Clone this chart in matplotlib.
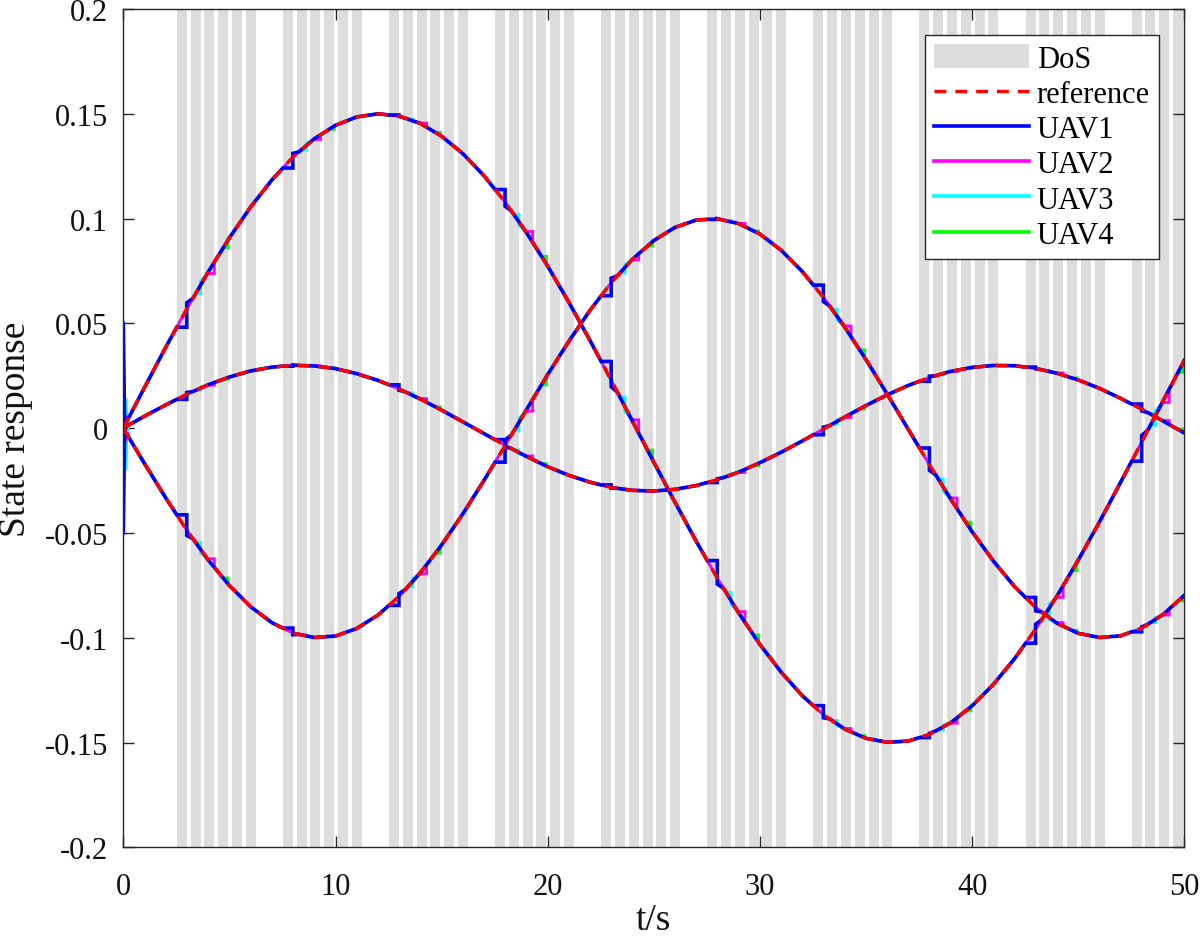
import numpy as np
import matplotlib
matplotlib.use("Agg")
import matplotlib.pyplot as plt
from matplotlib.patches import Patch
from matplotlib.lines import Line2D
from matplotlib.ticker import FuncFormatter

# ---------------- data ----------------
t_ref = list(range(51))  # seconds

ref_x1 = [0.0000, 0.0194, 0.0386, 0.0570, 0.0745, 0.0908, 0.1055, 0.1184, 0.1294,
          0.1381, 0.1445, 0.1485, 0.1500, 0.1489, 0.1454, 0.1393, 0.1310, 0.1204,
          0.1078, 0.0933, 0.0773, 0.0600, 0.0417, 0.0227, 0.0032, -0.0162, -0.0354,
          -0.0540, -0.0717, -0.0882, -0.1032, -0.1164, -0.1277, -0.1368, -0.1436, -0.1480,
          -0.1499, -0.1493, -0.1461, -0.1405, -0.1325, -0.1223, -0.1100, -0.0958, -0.0801,
          -0.0630, -0.0448, -0.0258, -0.0065, 0.0130, 0.0323]
ref_x2 = [0.0000, -0.0169, -0.0333, -0.0488, -0.0629, -0.0751, -0.0852, -0.0928, -0.0978,
          -0.0999, -0.0992, -0.0956, -0.0892, -0.0803, -0.0690, -0.0558, -0.0409, -0.0249,
          -0.0082, 0.0088, 0.0256, 0.0415, 0.0563, 0.0695, 0.0807, 0.0895, 0.0958,
          0.0993, 0.0999, 0.0976, 0.0926, 0.0849, 0.0747, 0.0623, 0.0482, 0.0327,
          0.0162, -0.0007, -0.0176, -0.0340, -0.0494, -0.0634, -0.0756, -0.0856, -0.0931,
          -0.0979, -0.0999, -0.0991, -0.0954, -0.0889, -0.0798]
ref_x3 = [0.0000, 0.0057, 0.0111, 0.0162, 0.0207, 0.0244, 0.0273, 0.0291, 0.0300,
          0.0297, 0.0284, 0.0260, 0.0228, 0.0187, 0.0139, 0.0086, 0.0030, -0.0026,
          -0.0082, -0.0135, -0.0184, -0.0225, -0.0258, -0.0283, -0.0297, -0.0300, -0.0292,
          -0.0274, -0.0246, -0.0210, -0.0165, -0.0115, -0.0061, -0.0004, 0.0053, 0.0108,
          0.0159, 0.0204, 0.0242, 0.0271, 0.0290, 0.0299, 0.0298, 0.0285, 0.0262,
          0.0230, 0.0190, 0.0142, 0.0090, 0.0034, -0.0023]

# DoS attack intervals: groups every 5 s, six short attack windows per group
dos_group_starts = [2.5, 7.5, 12.5, 17.5, 22.5, 27.5, 32.5, 37.5, 42.5, 47.5]
dos_stripe_offsets = [0.02, 0.67, 1.32, 1.97, 2.62, 3.27]
dos_stripe_width = 0.47

uav_names = ["UAV1", "UAV2", "UAV3", "UAV4"]
uav_colors = ["#0000ff", "#ff00ff", "#00ffff", "#00ff00"]
# which attack window of every group freezes each UAV's update (zero-order hold)
uav_hold_stripes = [[0], [2], [1], [3]]
uav_hold_fraction = [1.0, 0.7, 0.5, 0.5]
uav_overshoot = [0.35, 0.0, 0.5, 0.2]
uav_settle = [0.30, 0.15, 0.30, 0.20]

# initial transient of each UAV (three states each)
init_t = [0.0, 0.06, 0.12, 0.18, 0.24]
uav_init = [
    [[0.050, 0.003, 0.002, 0.004, 0.0047], [-0.050, -0.002, -0.003, -0.003, -0.0041], [0.000, 0.002, 0.000, 0.001, 0.0014]],
    [[0.030, 0.001, 0.006, 0.003, 0.0047], [-0.030, 0.003, -0.006, -0.002, -0.0041], [0.010, -0.002, 0.003, 0.001, 0.0014]],
    [[0.042, -0.008, 0.014, 0.000, 0.0047], [-0.021, 0.011, -0.016, 0.004, -0.0041], [-0.006, 0.013, -0.020, 0.006, 0.0014]],
    [[0.020, 0.004, 0.002, 0.005, 0.0047], [-0.015, -0.006, 0.002, -0.004, -0.0041], [0.005, 0.001, 0.003, 0.001, 0.0014]],
]

# ---------------- helpers ----------------
def uav_trace(yref, holds, os_frac, settle, t0_pts, y0_pts):
    tr = np.asarray(t_ref, float)
    yr = np.asarray(yref, float)
    mask = tr > t0_pts[-1]
    ext_t, ext_y = [], []
    for a, b in holds:
        ya = np.interp(a, tr, yr)
        yb = np.interp(b, tr, yr)
        ys = np.interp(b + settle, tr, yr)
        mask &= ~((tr >= a) & (tr <= b + settle))
        ext_t += [a, b, b, b + settle]
        ext_y += [ya, ya, yb + os_frac * (yb - ya), ys]
    T = np.concatenate([t0_pts, tr[mask], ext_t])
    Y = np.concatenate([y0_pts, yr[mask], ext_y])
    order = np.argsort(T, kind="stable")
    return T[order], Y[order]

# ---------------- figure ----------------
plt.rcParams["font.family"] = ["Liberation Serif", "DejaVu Serif"]
plt.rcParams["axes.unicode_minus"] = False

fig = plt.figure(figsize=(12, 9.37), dpi=100)
ax = fig.add_axes([0.10275, 0.09467, 0.88417, 0.89466])

dos_color = "#dddddd"
for g in dos_group_starts:
    for off in dos_stripe_offsets:
        a = g + off
        ax.axvspan(a, a + dos_stripe_width, facecolor=dos_color, edgecolor="none", zorder=1)

refs = [ref_x1, ref_x2, ref_x3]
for k in range(3, -1, -1):
    holds = []
    for g in dos_group_starts:
        for s in uav_hold_stripes[k]:
            b = g + dos_stripe_offsets[s] + dos_stripe_width
            holds.append((b - uav_hold_fraction[k] * dos_stripe_width, b))
    for j, yref in enumerate(refs):
        T, Y = uav_trace(yref, holds, uav_overshoot[k], uav_settle[k], init_t, uav_init[k][j])
        ax.plot(T, Y, color=uav_colors[k], lw=2.6 if k == 0 else 2.1,
                zorder=2 + (3 - k), solid_joinstyle="miter")

for yref in refs:
    ax.plot(t_ref, yref, color="#ff0000", lw=2.5, linestyle=(0, (3.4, 2.6)), zorder=7)

ax.set_xlim(0, 50)
ax.set_ylim(-0.2, 0.2)
ax.set_xticks([0, 10, 20, 30, 40, 50])
ax.set_yticks([-0.2, -0.15, -0.1, -0.05, 0, 0.05, 0.1, 0.15, 0.2])
ax.yaxis.set_major_formatter(FuncFormatter(lambda v, p: "%g" % round(v, 4)))

axis_col = "#262626"
for sp in ax.spines.values():
    sp.set_color(axis_col)
    sp.set_linewidth(1.0)
    sp.set_zorder(10)
ax.tick_params(direction="in", length=8, width=1.0, color=axis_col, labelcolor="#111111",
               labelsize=22, top=True, right=True)
ax.tick_params(axis="x", pad=17.5)
ax.tick_params(axis="y", pad=11)

ax.set_xlabel("t/s", fontsize=27, color="#111111")
ax.xaxis.label.set_va("baseline")
ax.xaxis.set_label_coords(0.5, (848.3 - 930) / 838.3)
ax.set_ylabel("State response", fontsize=27, color="#111111")
ax.yaxis.label.set_va("baseline")
ax.yaxis.set_label_coords((25 - 123.3) / 1061.0, 0.5)

handles = [Patch(facecolor=dos_color, edgecolor="none"),
           Line2D([], [], color="#ff0000", lw=2.5, linestyle=(0, (3.4, 2.6)))]
handles += [Line2D([], [], color=c, lw=2.6) for c in uav_colors]
labels = ["DoS", "reference"] + uav_names
leg = ax.legend(handles, labels, loc="upper right",
                bbox_to_anchor=(1159 / 1200, 1 - 35.7 / 937), bbox_transform=fig.transFigure,
                borderaxespad=0, fontsize=22, frameon=True, fancybox=False, framealpha=1,
                edgecolor=axis_col, borderpad=0.3, handlelength=3.1, handletextpad=0.25,
                labelspacing=0.18, handleheight=0.85)
leg.get_frame().set_linewidth(1.0)
leg.set_zorder(20)

fig.savefig("out.png", dpi=100)
